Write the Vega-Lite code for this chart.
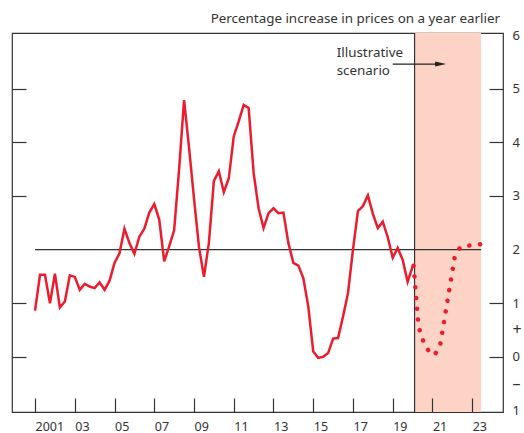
{
  "$schema": "https://vega.github.io/schema/vega-lite/v6.json",
  "width": 491,
  "height": 379,
  "autosize": {"type": "none"},
  "padding": {"left": 12, "top": 33, "right": 21, "bottom": 21},
  "background": "white",
  "title": {"text": "Percentage increase in prices on a year earlier", "anchor": "end", "frame": "group", "orient": "top", "baseline": "alphabetic", "offset": -7, "dx": -3, "font": "Noto Sans", "fontSize": 13.4, "fontWeight": "normal", "color": "#333333"},
  "config": {
    "view": {"stroke": "#333333", "strokeWidth": 1.2},
    "axis": {"grid": false, "domain": false, "labelFont": "Noto Sans", "labelFontSize": 13, "labelColor": "#333333", "tickColor": "#333333", "tickWidth": 1.2, "title": null}
  },
  "datasets": {
    "cpi": [
      {"t": 2001.00, "v": 0.86}, {"t": 2001.25, "v": 1.53}, {"t": 2001.50, "v": 1.53}, {"t": 2001.75, "v": 1.0},
      {"t": 2002.00, "v": 1.55}, {"t": 2002.25, "v": 0.92}, {"t": 2002.50, "v": 1.03}, {"t": 2002.75, "v": 1.52},
      {"t": 2003.00, "v": 1.49}, {"t": 2003.25, "v": 1.25}, {"t": 2003.50, "v": 1.36}, {"t": 2003.75, "v": 1.31},
      {"t": 2004.00, "v": 1.28}, {"t": 2004.25, "v": 1.39}, {"t": 2004.50, "v": 1.25}, {"t": 2004.75, "v": 1.42},
      {"t": 2005.00, "v": 1.75}, {"t": 2005.25, "v": 1.93}, {"t": 2005.50, "v": 2.39}, {"t": 2005.75, "v": 2.12},
      {"t": 2006.00, "v": 1.92}, {"t": 2006.25, "v": 2.24}, {"t": 2006.50, "v": 2.39}, {"t": 2006.75, "v": 2.69},
      {"t": 2007.00, "v": 2.85}, {"t": 2007.25, "v": 2.56}, {"t": 2007.50, "v": 1.78}, {"t": 2007.75, "v": 2.06},
      {"t": 2008.00, "v": 2.36}, {"t": 2008.25, "v": 3.5}, {"t": 2008.50, "v": 4.79}, {"t": 2008.75, "v": 3.9},
      {"t": 2009.00, "v": 2.95}, {"t": 2009.25, "v": 2.05}, {"t": 2009.50, "v": 1.49}, {"t": 2009.75, "v": 2.13},
      {"t": 2010.00, "v": 3.28}, {"t": 2010.25, "v": 3.46}, {"t": 2010.50, "v": 3.07}, {"t": 2010.75, "v": 3.33},
      {"t": 2011.00, "v": 4.11}, {"t": 2011.25, "v": 4.39}, {"t": 2011.50, "v": 4.70}, {"t": 2011.75, "v": 4.64},
      {"t": 2012.00, "v": 3.43}, {"t": 2012.25, "v": 2.77}, {"t": 2012.50, "v": 2.40}, {"t": 2012.75, "v": 2.68},
      {"t": 2013.00, "v": 2.77}, {"t": 2013.25, "v": 2.68}, {"t": 2013.50, "v": 2.69}, {"t": 2013.75, "v": 2.12},
      {"t": 2014.00, "v": 1.75}, {"t": 2014.25, "v": 1.70}, {"t": 2014.50, "v": 1.47}, {"t": 2014.75, "v": 0.94},
      {"t": 2015.00, "v": 0.10}, {"t": 2015.25, "v": -0.02}, {"t": 2015.50, "v": 0.0}, {"t": 2015.75, "v": 0.07},
      {"t": 2016.00, "v": 0.34}, {"t": 2016.25, "v": 0.35}, {"t": 2016.50, "v": 0.75}, {"t": 2016.75, "v": 1.19},
      {"t": 2017.00, "v": 2.0}, {"t": 2017.25, "v": 2.72}, {"t": 2017.50, "v": 2.81}, {"t": 2017.75, "v": 3.01},
      {"t": 2018.00, "v": 2.67}, {"t": 2018.25, "v": 2.40}, {"t": 2018.50, "v": 2.52}, {"t": 2018.75, "v": 2.23},
      {"t": 2019.00, "v": 1.85}, {"t": 2019.25, "v": 2.03}, {"t": 2019.50, "v": 1.81}, {"t": 2019.75, "v": 1.40},
      {"t": 2020.00, "v": 1.68}
    ],
    "scenario": [
      {"t": 2020.05, "v": 1.70}, {"t": 2020.27, "v": 0.69}, {"t": 2020.36, "v": 0.49}, {"t": 2020.53, "v": 0.30},
      {"t": 2020.78, "v": 0.125}, {"t": 2021.10, "v": 0.03}, {"t": 2021.38, "v": 0.2}, {"t": 2022.12, "v": 1.86},
      {"t": 2022.39, "v": 2.04}, {"t": 2022.93, "v": 2.08}, {"t": 2023.40, "v": 2.10}
    ]
  },
  "layer": [
    {
      "data": {"values": [{"t": 2020.1, "t2": 2023.45}]},
      "mark": {"type": "rect", "color": "#FDD3C6"},
      "encoding": {
        "x": {"field": "t", "type": "quantitative", "scale": {"domain": [1999.84, 2024.55], "nice": false, "zero": false},
          "axis": {"orient": "bottom", "values": [2001, 2003, 2005, 2007, 2009, 2011, 2013, 2015, 2017, 2019, 2021, 2023], "offset": -14, "tickSize": 14, "labelPadding": 8, "labelAlign": "left", "labelFontSize": 12.5, "zindex": 1, "labelExpr": "datum.value == 2001 ? '2001' : substring(toString(datum.value), 2)"}},
        "x2": {"field": "t2"}
      }
    },
    {
      "data": {"values": [{"t": 2001, "t2": 2023.45, "v": 2}]},
      "mark": {"type": "rule", "color": "#333333", "strokeWidth": 1.2},
      "encoding": {
        "x": {"field": "t", "type": "quantitative"},
        "x2": {"field": "t2"},
        "y": {"field": "v", "type": "quantitative", "scale": {"domain": [-1.03, 6.04], "nice": false, "zero": false},
          "axis": {"orient": "left", "values": [0, 1, 3, 4, 5], "labels": false, "offset": -14, "tickSize": 14, "zindex": 1}}
      }
    },
    {
      "data": {"values": [{"t": 2020.1}]},
      "mark": {"type": "rule", "color": "#333333", "strokeWidth": 1.2},
      "encoding": {"x": {"field": "t", "type": "quantitative"}}
    },
    {
      "data": {"name": "cpi"},
      "mark": {"type": "line", "color": "#EB1C2D", "strokeWidth": 2.5},
      "encoding": {
        "x": {"field": "t", "type": "quantitative"},
        "y": {"field": "v", "type": "quantitative",
          "axis": {"orient": "right", "values": [-1, -0.5, 0, 0.5, 1, 2, 3, 4, 5, 6], "offset": -14, "tickSize": 14, "labelPadding": 9, "labelAlign": "left", "zindex": 1,
            "labelExpr": "datum.value == 0.5 ? '+' : datum.value == -0.5 ? '–' : toString(abs(datum.value))",
            "labelFontSize": {"condition": {"test": "datum.value == 0.5 || datum.value == -0.5", "value": 16}, "value": 13},
            "tickOpacity": {"condition": {"test": "datum.value == 0.5 || datum.value == -0.5 || datum.value == 2 || datum.value == 6 || datum.value == -1", "value": 0}, "value": 1}}}
      }
    },
    {
      "data": {"name": "scenario"},
      "mark": {"type": "line", "color": "#EB1C2D", "strokeWidth": 4.5, "strokeCap": "round", "strokeDash": [0.1, 10.7]},
      "encoding": {
        "x": {"field": "t", "type": "quantitative"},
        "y": {"field": "v", "type": "quantitative", "axis": null}
      }
    },
    {
      "data": {"values": [{"t": 2016.18, "v": 5.60, "label": ["Illustrative", "scenario"]}]},
      "mark": {"type": "text", "align": "left", "baseline": "alphabetic", "font": "Noto Sans", "fontSize": 13.4, "color": "#333333", "lineHeight": 18},
      "encoding": {
        "x": {"field": "t", "type": "quantitative"},
        "y": {"field": "v", "type": "quantitative", "axis": null},
        "text": {"field": "label"}
      }
    },
    {
      "data": {"values": [{"t": 2019.0, "t2": 2021.18, "v": 5.46}]},
      "mark": {"type": "rule", "color": "#222222", "strokeWidth": 1.2},
      "encoding": {
        "x": {"field": "t", "type": "quantitative"},
        "x2": {"field": "t2"},
        "y": {"field": "v", "type": "quantitative", "axis": null}
      }
    },
    {
      "data": {"values": [{"t": 2021.41, "v": 5.46}]},
      "mark": {"type": "point", "shape": "M-1,-0.45L1,0L-1,0.45Z", "size": 121, "filled": true, "color": "#222222", "opacity": 1},
      "encoding": {
        "x": {"field": "t", "type": "quantitative"},
        "y": {"field": "v", "type": "quantitative", "axis": null}
      }
    }
  ],
  "resolve": {"axis": {"y": "independent"}}
}
